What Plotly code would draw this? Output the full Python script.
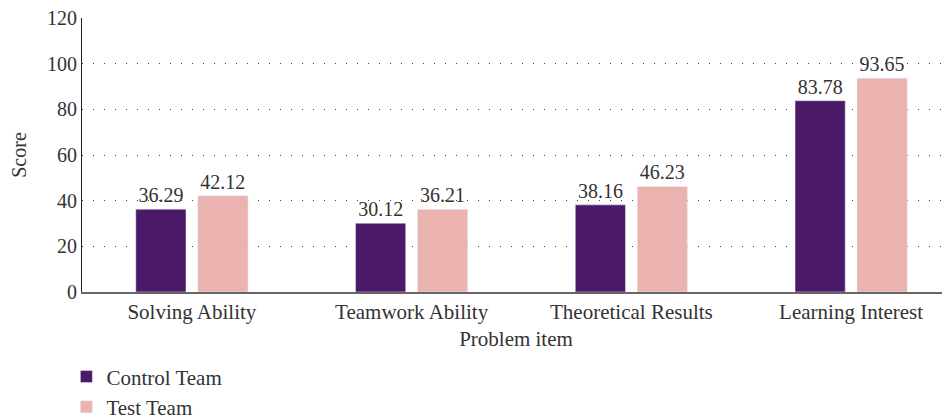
import plotly.graph_objects as go

categories = ["Solving Ability", "Teamwork Ability", "Theoretical Results", "Learning Interest"]
control_team = [36.29, 30.12, 38.16, 83.78]
test_team = [42.12, 36.21, 46.23, 93.65]
series_names = ["Control Team", "Test Team"]
y_ticks = [0, 20, 40, 60, 80, 100, 120]

FONT = "Liberation Serif"
FS = 20
fig = go.Figure()
for name, vals, col in [(series_names[0], control_team, "#4a1a69"),
                        (series_names[1], test_team, "#eab3b0")]:
    fig.add_trace(go.Bar(
        x=categories, y=vals, name=name, marker_color=col,
        text=[f"{v:.2f}" for v in vals], textposition="outside",
        textfont=dict(family=FONT, size=FS, color="#333"),
        cliponaxis=False,
    ))

fig.update_layout(
    width=942, height=411,
    paper_bgcolor="white", plot_bgcolor="white",
    margin=dict(l=74, r=0, t=10, b=127, autoexpand=False),
    barmode="group", bargap=0.436, bargroupgap=0.19,
    font=dict(family=FONT, size=FS, color="#333"),
    showlegend=True,
    legend=dict(orientation="v", x=-0.018, xanchor="left",
                y=-0.235, yanchor="top",
                font=dict(family=FONT, size=21, color="#333"),
                itemwidth=30, tracegroupgap=0, bgcolor="rgba(0,0,0,0)"),
    xaxis=dict(range=[-0.5, 3.45], showline=True, linecolor="#666", linewidth=2,
               ticks="", showgrid=False, automargin=False,
               title=dict(text="Problem item", font=dict(family=FONT, size=21, color="#333"), standoff=8),
               tickfont=dict(family=FONT, size=21, color="#333")),
    yaxis=dict(range=[0, 120], tickvals=y_ticks, showline=True, linecolor="#222", linewidth=1,
               ticks="", showgrid=True, gridcolor="#444", gridwidth=1, griddash="1px,10px",
               zeroline=False, automargin=False, ticklabeloverflow="allow",
               title=dict(text="Score", font=dict(family=FONT, size=FS, color="#333"), standoff=18),
               tickfont=dict(family=FONT, size=FS, color="#333")),
)
fig.write_html("out.html")
